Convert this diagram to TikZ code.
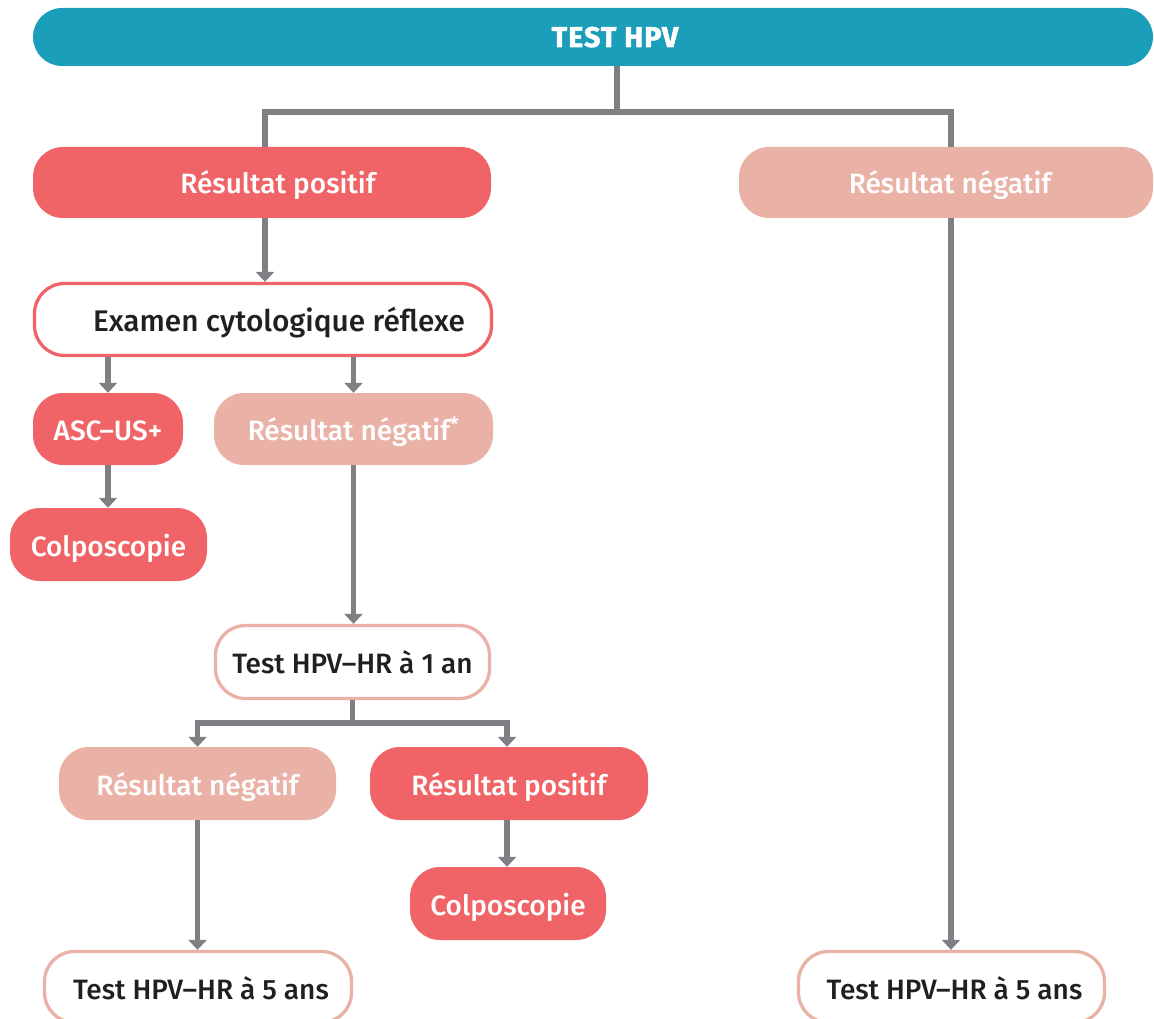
\documentclass[tikz,border=0pt]{standalone}
\usepackage{fontspec}
\setmainfont{Fira Sans}
\newfontfamily\medfont{Fira Sans Medium}
\newfontfamily\heavyfont{Fira Sans Bold}[FakeBold=2,LetterSpace=4]
\usetikzlibrary{arrows.meta,calc}
\definecolor{tealc}{HTML}{1A9EBA}
\definecolor{coral}{HTML}{F06468}
\definecolor{pinkc}{HTML}{EAB2A7}
\definecolor{lgray}{HTML}{808084}
\definecolor{darkt}{HTML}{231F20}
\tikzset{
 conn/.style={draw=lgray, line width=5.5pt, line join=miter},
 arr/.style={conn, -{Triangle[width=18pt,length=10pt]}},
 txt/.style={inner sep=0pt, font=\medfont\fontsize{28}{32}\selectfont},
 box/.style={rectangle, rounded corners=30pt, inner sep=0pt, text height=23pt, text depth=0pt, txt},
 solidred/.style={box, fill=coral, text=white},
 solidpink/.style={box, fill=pinkc, text=white},
 outred/.style={box, fill=white, draw=coral, line width=3.3pt, text=darkt},
 outpink/.style={box, fill=white, draw=pinkc, line width=3.3pt, text=darkt},
}
\begin{document}
\begin{tikzpicture}[x=1pt,y=-1pt]
\useasboundingbox (0,0) rectangle (1154,1019);
% boxes
\node[box, fill=tealc, minimum width=1120pt, minimum height=58pt, rounded corners=29pt] (top) at (593,37) {};
\node[txt, font=\heavyfont\fontsize{28.5}{30}\selectfont, text=white, anchor=base] (topt) at (615,47) {TEST HPV};
\node[solidred, minimum width=458pt, minimum height=71pt] (pos1) at (262,182.5) {};
\node[txt, text=white, anchor=base] (pos1t) at (278,194) {Résultat positif};
\node[solidpink, minimum width=414pt, minimum height=71pt] (neg1) at (946,182.5) {};
\node[txt, text=white, anchor=base] (neg1t) at (950,194) {Résultat négatif};
\node[outred, minimum width=457pt, minimum height=72pt] (exam) at (263,319.5) {};
\node[txt, font=\medfont\fontsize{29.8}{32}\selectfont, text=darkt, anchor=base] (examt) at (279,331) {Examen cytologique réflexe};
\node[solidred, minimum width=150pt, minimum height=72pt] (asc) at (108,429) {ASC–US+};
\node[solidpink, minimum width=279pt, minimum height=72pt] (neg2) at (353.5,429) {Résultat négatif\textsuperscript{*}};
\node[solidred, minimum width=197pt, minimum height=73pt] (colpo1) at (108.5,544.5) {Colposcopie};
\node[outpink, minimum width=274pt, minimum height=73pt] (test1) at (352.5,662) {Test HPV–HR à 1 an};
\node[solidpink, minimum width=277pt, minimum height=73pt] (neg3) at (197.5,783.5) {Résultat négatif};
\node[solidred, minimum width=278pt, minimum height=73pt] (pos2) at (509,783.5) {Résultat positif};
\node[solidred, minimum width=196pt, minimum height=73pt] (colpo2) at (508,903.5) {Colposcopie};
\node[outpink, minimum width=307pt, minimum height=71pt] (test5a) at (198,987) {};
\node[txt, text=darkt, anchor=base] (test5at) at (201,999) {Test HPV–HR à 5 ans};
\node[outpink, minimum width=306pt, minimum height=71pt] (test5b) at (951.5,987) {};
\node[txt, text=darkt, anchor=base] (test5bt) at (954.5,999) {Test HPV–HR à 5 ans};
% connectors
\coordinate (tb) at (617,112);
\draw[conn] (top.south -| tb) -- (tb);
\draw[conn] ([xshift=3pt]pos1.north) |- (tb) -| ([xshift=5pt]neg1.north);
\draw[arr] ([xshift=3pt]pos1.south) -- ([xshift=2pt]exam.north);
\draw[arr] (exam.south -| asc.north) -- (asc.north);
\draw[arr] (exam.south -| neg2.north) -- (neg2.north);
\draw[arr] (asc.south) -- (asc.south |- colpo1.north);
\draw[arr] (neg2.south) -- (neg2.south |- test1.north);
\draw[conn] (test1.south) -- ++(0,23) coordinate (j2);
\draw[arr] (j2) -| (neg3.north);
\draw[arr] (j2) -| ([xshift=-2pt]pos2.north);
\draw[arr] ([xshift=-2pt]pos2.south) -- ([xshift=-2pt]pos2.south |- colpo2.north);
\draw[arr] (neg3.south) -- (neg3.south |- test5a.north);
\draw[arr] ([xshift=5pt]neg1.south) -- ([xshift=5pt]neg1.south |- test5b.north);
\end{tikzpicture}
\end{document}
